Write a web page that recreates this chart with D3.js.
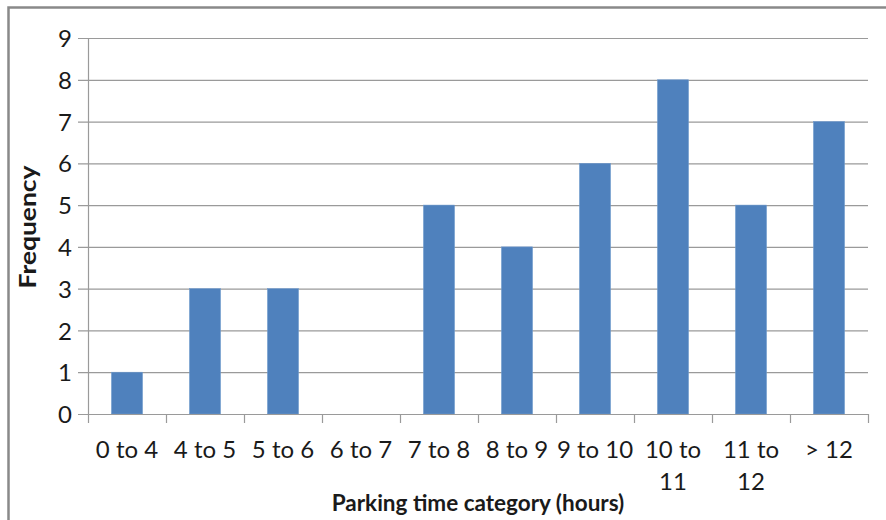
<!DOCTYPE html>
<html>
<head>
<meta charset="utf-8">
<script src="https://cdn.jsdelivr.net/npm/d3@7"></script>
<style>
  html, body { margin: 0; padding: 0; background: #fff; }
  svg { display: block; }
  text { font-family: Lato, "Open Sans", sans-serif; fill: #1a1a1a; }
</style>
</head>
<body>
<svg id="chart" width="886" height="520"></svg>
<script>
// Parking time distribution
const categories = ["0 to 4", "4 to 5", "5 to 6", "6 to 7", "7 to 8", "8 to 9", "9 to 10", "10 to 11", "11 to 12", "> 12"];
const frequency = [1, 3, 3, 0, 5, 4, 6, 8, 5, 7];
const yTicks = [0, 1, 2, 3, 4, 5, 6, 7, 8, 9];
const xTitle = "Parking time category (hours)";
const yTitle = "Frequency";

const svg = d3.select("#chart");
const W = 886, H = 520;
const margin = { left: 88, right: 18, top: 38, bottom: 106 };
const plotW = W - margin.left - margin.right;
const plotH = H - margin.top - margin.bottom;

// Outer chart frame
svg.append("rect")
  .attr("x", 8.5).attr("y", 7.5)
  .attr("width", W + 10).attr("height", H + 10)
  .attr("fill", "#fff")
  .attr("stroke", "#898989").attr("stroke-width", 2.5);

const g = svg.append("g").attr("transform", `translate(${margin.left},${margin.top})`);

const xBand = d3.scaleBand().domain(categories).range([0, plotW]);
const y = d3.scaleLinear().domain([0, 9]).range([plotH, 0]);

// Horizontal gridlines with left tick stubs
const yAxis = d3.axisLeft(y).tickValues(yTicks).tickSize(-plotW).tickPadding(16).tickSizeOuter(0);
const gy = g.append("g").call(yAxis);
gy.select(".domain").remove();
gy.selectAll(".tick line").attr("stroke", "#9a9a9a").attr("stroke-width", 1.2).attr("x1", -10);
gy.selectAll(".tick text")
  .attr("font-size", 24).attr("dy", "0.36em")
  .style("font-family", "Lato, 'Open Sans', sans-serif").attr("fill", "#1a1a1a");

// Vertical axis line
g.append("line")
  .attr("x1", 0.5).attr("x2", 0.5).attr("y1", 0).attr("y2", plotH)
  .attr("stroke", "#9a9a9a").attr("stroke-width", 1.2);

// Bars
const barW = 31;
g.selectAll("rect.bar")
  .data(categories.map((c, i) => ({ c, v: frequency[i] })))
  .join("rect")
  .attr("class", "bar")
  .attr("x", d => xBand(d.c) + (xBand.bandwidth() - barW) / 2)
  .attr("width", barW)
  .attr("y", d => y(d.v))
  .attr("height", d => plotH - y(d.v))
  .attr("fill", "#4f81bd")
  .attr("stroke", "#6f99cc").attr("stroke-width", 0.6);

// Category axis with ticks between bands
const gx = g.append("g").attr("transform", `translate(0,${plotH})`);
gx.append("line").attr("x1", 0).attr("x2", plotW).attr("y1", 0.5).attr("y2", 0.5)
  .attr("stroke", "#9a9a9a").attr("stroke-width", 1.2);
const boundaries = categories.map(c => xBand(c)).concat([plotW]);
gx.selectAll("line.sep").data(boundaries).join("line")
  .attr("class", "sep")
  .attr("x1", d => d + 0.5).attr("x2", d => d + 0.5)
  .attr("y1", 0).attr("y2", 9)
  .attr("stroke", "#9a9a9a").attr("stroke-width", 1.2);

const labelG = gx.selectAll("text.cat").data(categories).join("text")
  .attr("class", "cat")
  .attr("text-anchor", "middle")
  .attr("font-size", 24)
  .attr("transform", d => `translate(${xBand(d) + xBand.bandwidth() / 2},44)`);

// Wrap labels that are wider than their band
labelG.each(function(d) {
  const t = d3.select(this);
  t.text(d);
  if (this.getComputedTextLength() > xBand.bandwidth()) {
    const words = d.split(" ");
    const last = words.pop();
    t.text(null);
    t.append("tspan").attr("x", 0).attr("y", 0).text(words.join(" "));
    t.append("tspan").attr("x", 0).attr("y", 32).text(last);
  }
});

// Axis titles
svg.append("text")
  .attr("x", margin.left + plotW / 2).attr("y", 511)
  .attr("text-anchor", "middle")
  .attr("font-size", 22.5).attr("font-weight", "bold")
  .text(xTitle);

svg.append("text")
  .attr("transform", `translate(36,${margin.top + plotH / 2 + 1}) rotate(-90) scale(1.2,1)`)
  .attr("text-anchor", "middle")
  .attr("font-size", 22).attr("font-weight", "bold")
  .text(yTitle);
</script>
</body>
</html>
